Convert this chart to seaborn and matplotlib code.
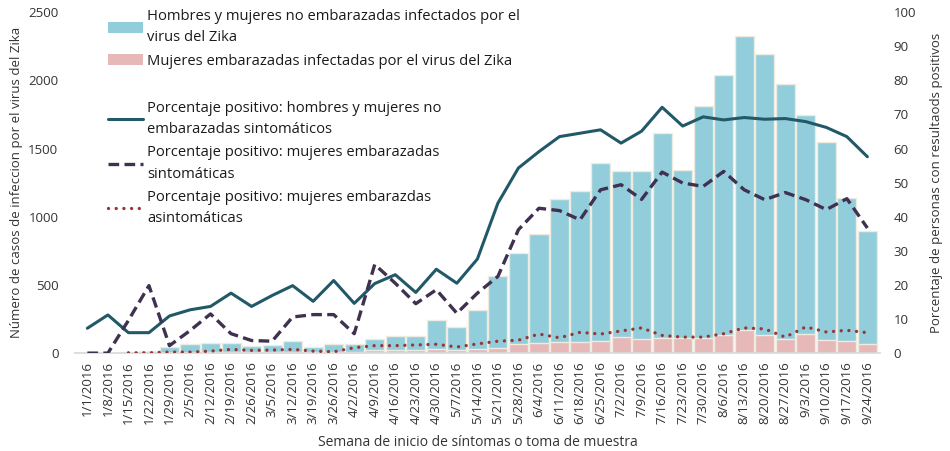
import numpy as np
import pandas as pd
import matplotlib
matplotlib.use('Agg')
import matplotlib.pyplot as plt
from matplotlib.lines import Line2D
from matplotlib.patches import Patch
import seaborn as sns

# semanas de inicio de sintomas
semanas = ['1/1/2016', '1/8/2016', '1/15/2016', '1/22/2016', '1/29/2016', '2/5/2016',
           '2/12/2016', '2/19/2016', '2/26/2016', '3/5/2016', '3/12/2016', '3/19/2016',
           '3/26/2016', '4/2/2016', '4/9/2016', '4/16/2016', '4/23/2016', '4/30/2016',
           '5/7/2016', '5/14/2016', '5/21/2016', '5/28/2016', '6/4/2016', '6/11/2016',
           '6/18/2016', '6/25/2016', '7/2/2016', '7/9/2016', '7/16/2016', '7/23/2016',
           '7/30/2016', '8/6/2016', '8/13/2016', '8/20/2016', '8/27/2016', '9/3/2016',
           '9/10/2016', '9/17/2016', '9/24/2016']

# casos (eje izquierdo)
no_embarazadas = [0, 0, 4, 10, 41, 62, 70, 68, 45, 56, 79, 37, 64, 58, 86, 105, 102, 213,
                  175, 284, 530, 665, 796, 1046, 1111, 1303, 1222, 1227, 1508, 1234, 1701,
                  1906, 2159, 2057, 1872, 1601, 1455, 1046, 829]
embarazadas = [0, 0, 1, 2, 3, 4, 5, 6, 5, 6, 7, 5, 6, 8, 20, 20, 20, 27, 20, 29, 37, 68,
               76, 83, 81, 90, 117, 105, 108, 110, 110, 134, 166, 134, 105, 142, 93, 88, 64]

# porcentaje positivo (eje derecho)
pct_no_emb_sint = [7.3, 11.2, 6.0, 6.0, 10.9, 12.7, 13.7, 17.6, 13.7, 16.9, 19.8, 15.2, 21.3,
                   14.6, 20.4, 23.0, 17.8, 24.6, 20.5, 27.6, 44.0, 54.3, 59.1, 63.5, 64.5,
                   65.5, 61.6, 65.1, 72.1, 66.6, 69.3, 68.4, 69.1, 68.6, 68.8, 67.9, 66.2,
                   63.5, 57.6]
pct_emb_sint = [0, 0, 9.6, 19.8, 2.2, 6.6, 11.5, 5.7, 3.7, 3.5, 10.6, 11.3, 11.3, 5.7, 26.0,
                20.5, 14.5, 18.6, 11.7, 17.6, 22.5, 36.2, 42.5, 41.8, 39.1, 47.9, 49.4, 45.1,
                53.1, 49.9, 48.9, 53.3, 47.9, 45.0, 47.1, 45.0, 42.1, 45.3, 36.7]
pct_emb_asint = [np.nan, np.nan, 0.1, 0.1, 0.3, 0.3, 0.6, 1.1, 0.8, 0.9, 1.1, 0.6, 0.4, 1.6,
                 2.2, 2.2, 2.4, 2.6, 1.8, 2.7, 3.5, 3.8, 5.6, 4.5, 6.1, 5.6, 6.5, 7.4, 5.2,
                 4.7, 4.7, 5.7, 7.4, 7.1, 4.7, 7.7, 6.2, 6.7, 6.0]

sns.set_theme(style='white')
plt.rcParams['font.family'] = ['Open Sans', 'DejaVu Sans']
txt = '#333333'

c_azul = '#92CDDC'
c_rosa = '#E6B9B8'
c_solid = '#215968'
c_dash = '#403151'
c_dot = '#953735'

df = pd.DataFrame({'semana': semanas,
                   'no_emb': no_embarazadas,
                   'emb': embarazadas})
df['total'] = df['no_emb'] + df['emb']
df['x'] = np.arange(len(df))

fig = plt.figure(figsize=(9.5, 4.51), dpi=100)
ax = fig.add_axes([0.079, 0.217, 0.847, 0.756])

# barras apiladas: total en azul, embarazadas en rosa abajo
sns.barplot(data=df, x='semana', y='total', color=c_azul, saturation=1, width=0.93,
            edgecolor='#EEECE1', linewidth=1, ax=ax)
sns.barplot(data=df, x='semana', y='emb', color=c_rosa, saturation=1, width=0.93,
            edgecolor='#EEECE1', linewidth=1, ax=ax)

ax.set_ylim(0, 2500)
ax.set_yticks(range(0, 2501, 500))
ax.set_xlim(-0.6, len(df) - 0.4)
ax.set_xlabel('Semana de inicio de síntomas o toma de muestra', fontsize=10, color=txt, labelpad=8)
ax.set_ylabel('Número de casos de infeccion por el virus del Zika', fontsize=9.5, color=txt)
ax.tick_params(axis='x', labelrotation=90, labelsize=9.5, colors=txt, length=0, pad=6)
ax.tick_params(axis='y', labelsize=9.5, colors=txt, length=0, pad=12)
for s in ['top', 'right', 'left']:
    ax.spines[s].set_visible(False)
ax.spines['bottom'].set_color('#D9D9D9')

ax2 = ax.twinx()
sns.lineplot(x=df['x'], y=pct_no_emb_sint, color=c_solid, linewidth=2.2, ax=ax2)
sns.lineplot(x=df['x'], y=pct_emb_sint, color=c_dash, linewidth=2.4, ax=ax2,
             linestyle=(0, (3.2, 1.6)))
ax2.plot(df['x'], pct_emb_asint, color=c_dot, linewidth=2.4,
         linestyle=(0, (0.01, 2.3)), dash_capstyle='round')
ax2.set_ylim(0, 100)
ax2.set_yticks(range(0, 101, 10))
ax2.set_ylabel('Porcentaje de personas con resultaods positivos', fontsize=9.5, color=txt,
               labelpad=10)
ax2.tick_params(axis='y', labelsize=9.5, colors=txt, length=0, pad=10)
for s in ['top', 'right', 'left', 'bottom']:
    ax2.spines[s].set_visible(False)

handles = [
    Patch(facecolor=c_azul, edgecolor='none'),
    Patch(facecolor=c_rosa, edgecolor='none'),
    Line2D([], [], color='none'),
    Line2D([], [], color=c_solid, linewidth=2.2),
    Line2D([], [], color=c_dash, linewidth=2.4, linestyle=(0, (3.2, 1.6))),
    Line2D([], [], color=c_dot, linewidth=2.4, linestyle=(0, (0.01, 2.3)),
           dash_capstyle='round'),
]
labels = [
    'Hombres y mujeres no embarazadas infectados por el\nvirus del Zika',
    'Mujeres embarazadas infectadas por el virus del Zika',
    ' ',
    'Porcentaje positivo: hombres y mujeres no\nembarazadas sintomáticos',
    'Porcentaje positivo: mujeres embarazadas\nsintomáticas',
    'Porcentaje positivo: mujeres embarazdas\nasintomáticas',
]
leg = ax2.legend(handles, labels, loc='upper left', bbox_to_anchor=(108 / 950, 1 - 9 / 451),
                 bbox_transform=fig.transFigure, frameon=False, fontsize=10.6,
                 handlelength=2.4, handleheight=0.8, handletextpad=0.25,
                 labelspacing=0.58, borderpad=0, borderaxespad=0)
for t in leg.get_texts():
    t.set_color('#1a1a1a')
    t.set_linespacing(1.56)

fig.savefig('out.png', dpi=100)
